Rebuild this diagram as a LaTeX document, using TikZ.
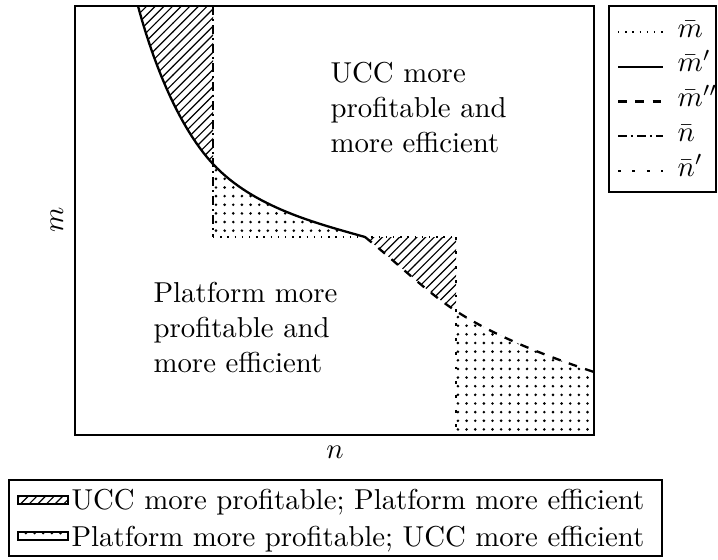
\documentclass[tikz,border=0pt]{standalone}
\usetikzlibrary{patterns}
\begin{document}
\begin{tikzpicture}[x=0.34722pt,y=-0.34722pt,
  frame/.style={line width=0.45pt},
  curveline/.style={line width=0.8pt},
  mbarline/.style={line width=0.5pt, dotted},
  mbarpline/.style={curveline},
  mbarppline/.style={curveline, dashed},
  nbarline/.style={curveline, dash pattern=on 3pt off 1.5pt on 0.6pt off 1.5pt},
  nbarpline/.style={line width=1pt, dash pattern=on 1pt off 4pt},
  hatch/.style={pattern=north east lines},
  dotfill/.style={pattern=dots},
  lbl/.style={font=\normalsize, inner sep=0pt}
]
\useasboundingbox (0,0) rectangle (718,559);
% key points
\coordinate (T1) at (138,6);
\coordinate (K1) at (213,164);
\coordinate (K2) at (365,237);
\coordinate (K3) at (456,311);
\coordinate (E)  at (594,372);
\coordinate (NT) at (213,6);
\coordinate (NB) at (213,237);
\coordinate (PT) at (456,237);
\coordinate (PB) at (456,435);
\coordinate (BR) at (594,435);
% regions
\fill[hatch] (T1) .. controls (153.6,64) and (179,127.5) .. (K1) -- (NT) -- cycle;
\fill[dotfill] (K1) .. controls (253.8,207.8) and (317.5,223.5) .. (K2) -- (NB) -- cycle;
\fill[hatch] (K2) .. controls (395,261) and (426,291.5) .. (K3) -- (PT) -- cycle;
\fill[dotfill] (K3) .. controls (496,337) and (549,357) .. (E) -- (BR) -- (PB) -- cycle;
% curves
\draw[mbarpline] (T1) .. controls (153.6,64) and (179,127.5) .. (K1)
  .. controls (253.8,207.8) and (317.5,223.5) .. (K2);
\draw[mbarppline] (K2) .. controls (395,261) and (426,291.5) .. (K3)
  .. controls (496,337) and (549,357) .. (E);
\draw[nbarline] (NT) -- (NB);
\draw[nbarpline] (PT) -- (PB);
\draw[mbarline] (NB) -- (PT);
% frame
\draw[frame] (75,6) rectangle (594,435);
% texts
\node[lbl, align=left, anchor=north west] (ucc) at (330,62) {UCC more\\profitable and\\more efficient};
\node[lbl, align=left, anchor=north west] (plat) at (153,282) {Platform more\\profitable and\\more efficient};
\node[lbl] (xl) at (335,452) {$n$};
\node[lbl, rotate=90] (yl) at (57,220) {$m$};
% right legend
\draw[frame] (609,6) rectangle (716,192);
\draw[mbarline] (618,32) -- (663,32);
\node[lbl, anchor=base west] (l1) at (677,37) {$\bar m$};
\draw[mbarpline] (618,66.75) -- (663,66.75);
\node[lbl, anchor=base west] (l2) at (677,71.75) {$\bar m'$};
\draw[mbarppline] (618,101.5) -- (663,101.5);
\node[lbl, anchor=base west] (l3) at (677,106.5) {$\bar m''$};
\draw[nbarline] (618,136.25) -- (663,136.25);
\node[lbl, anchor=base west] (l4) at (677,141.25) {$\bar n$};
\draw[nbarpline] (618,171) -- (663,171);
\node[lbl, anchor=base west] (l5) at (677,176) {$\bar n'$};
% bottom legend
\draw[frame] (9,480) rectangle (662,556);
\draw[frame, hatch] (18,496) rectangle (68,504);
\node[lbl, anchor=base west] (b1) at (71,509) {UCC more profitable; Platform more efficient};
\draw[frame, dotfill] (18,532) rectangle (68,540);
\node[lbl, anchor=base west] (b2) at (71,546) {Platform more profitable; UCC more efficient};
\end{tikzpicture}
\end{document}
